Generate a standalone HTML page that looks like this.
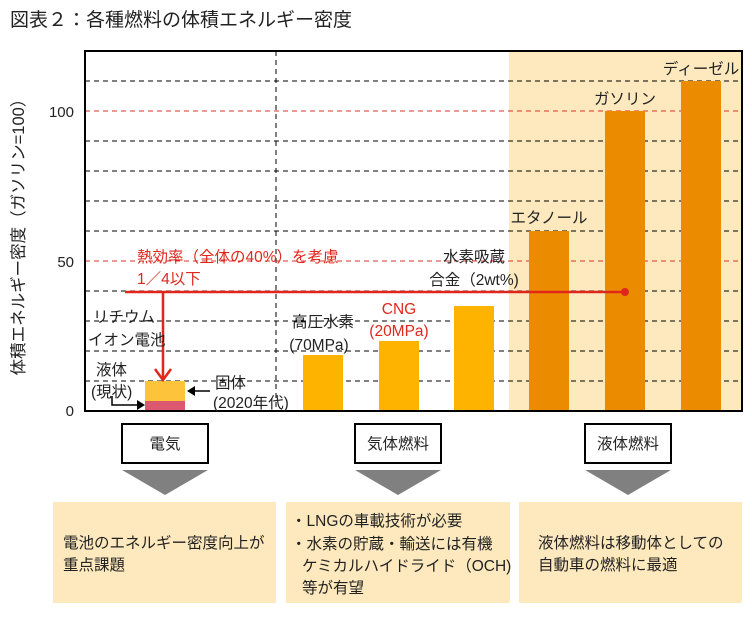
<!DOCTYPE html>
<html><head><meta charset="utf-8"><style>
body{margin:0;background:#fff;}
svg text{font-family:"Liberation Sans","Noto Sans CJK JP",sans-serif;fill:#222;}
</style></head><body>
<svg width="752" height="613" viewBox="0 0 752 613" xmlns="http://www.w3.org/2000/svg">
<text x="10" y="26" font-size="19">図表２：各種燃料の体積エネルギー密度</text>
<rect x="509" y="51" width="233" height="360" fill="#fde9bd"/>
<g stroke="#000" stroke-dasharray="5,4" stroke-width="1">
<line x1="85" y1="81" x2="742" y2="81"/>
<line x1="85" y1="141" x2="742" y2="141"/>
<line x1="85" y1="171" x2="742" y2="171"/>
<line x1="85" y1="201" x2="742" y2="201"/>
<line x1="85" y1="231" x2="742" y2="231"/>
<line x1="85" y1="291" x2="742" y2="291"/>
<line x1="85" y1="321" x2="742" y2="321"/>
<line x1="85" y1="351" x2="742" y2="351"/>
<line x1="85" y1="381" x2="742" y2="381"/>
<line x1="276" y1="51" x2="276" y2="411"/>
</g>
<g stroke="#d9322a" stroke-dasharray="5,4" stroke-width="1">
<line x1="85" y1="111" x2="742" y2="111"/>
<line x1="85" y1="261" x2="742" y2="261"/>
</g>
<rect x="145" y="381" width="40" height="20" fill="#fdc33a"/>
<rect x="145" y="401" width="40" height="10" fill="#dc5870"/>
<rect x="303" y="355" width="40" height="56" fill="#fdb300"/>
<rect x="379" y="341" width="40" height="70" fill="#fdb300"/>
<rect x="454" y="306" width="40" height="105" fill="#fdb300"/>
<rect x="529" y="231" width="40" height="180" fill="#ea8b00"/>
<rect x="605" y="111" width="40" height="300" fill="#ea8b00"/>
<rect x="681" y="81" width="40" height="330" fill="#ea8b00"/>
<rect x="85" y="51" width="657" height="360" fill="none" stroke="#000" stroke-width="2"/>
<g font-size="15" text-anchor="end">
<text x="74" y="117">100</text><text x="74" y="267">50</text><text x="74" y="416">0</text>
</g>
<text transform="translate(24,233) rotate(-90)" font-size="16.5" text-anchor="middle">体積エネルギー密度（ガソリン=100）</text>
<line x1="125" y1="292" x2="625" y2="292" stroke="#e0271c" stroke-width="2.5"/>
<circle cx="625" cy="292" r="4" fill="#e0271c"/>
<line x1="163" y1="292" x2="163" y2="378" stroke="#e0271c" stroke-width="2.5"/>
<polyline points="155,369 163,380 171,369" fill="none" stroke="#e0271c" stroke-width="2.5"/>
<g font-size="15.5">
<text x="137" y="262" style="fill:#e0271c">熱効率（全体の40%）を考慮</text>
<text x="137" y="284" style="fill:#e0271c">1／4以下</text>
<text x="399" y="314" text-anchor="middle" style="fill:#e0271c">CNG</text>
<text x="399" y="336" text-anchor="middle" style="fill:#e0271c">(20MPa)</text>
</g>
<g font-size="15.5">
<text x="93" y="322">リチウム</text>
<text x="88" y="345">イオン電池</text>
<text x="96" y="375">液体</text>
<text x="91" y="397">(現状)</text>
<text x="215" y="388">固体</text>
<text x="213" y="408">(2020年代)</text>
<text x="323" y="327" text-anchor="middle">高圧水素</text>
<text x="319" y="350" text-anchor="middle">(70MPa)</text>
<text x="474" y="262" text-anchor="middle">水素吸蔵</text>
<text x="474" y="285" text-anchor="middle">合金（2wt%)</text>
<text x="549" y="223" text-anchor="middle">エタノール</text>
<text x="625" y="104" text-anchor="middle">ガソリン</text>
<text x="701" y="74" text-anchor="middle">ディーゼル</text>
</g>
<polyline points="112,396 112,405 139,405" fill="none" stroke="#000" stroke-width="1.5"/>
<polygon points="145,405 137,400 137,410" fill="#000"/>
<line x1="192" y1="391" x2="210" y2="391" stroke="#000" stroke-width="1.5"/>
<polygon points="187,391 195,386 195,396" fill="#000"/>
<g stroke="#000" stroke-width="2" fill="#fff">
<rect x="122" y="424" width="86" height="39"/>
<rect x="355" y="424" width="86" height="39"/>
<rect x="585" y="424" width="86" height="39"/>
</g>
<g font-size="15.5" text-anchor="middle">
<text x="165" y="449">電気</text><text x="398" y="449">気体燃料</text><text x="628" y="449">液体燃料</text>
</g>
<g fill="#808080">
<polygon points="122,470 208,470 165,495"/>
<polygon points="355,470 441,470 398,495"/>
<polygon points="585,470 671,470 628,495"/>
</g>
<g fill="#fde9bd">
<rect x="53" y="502" width="223" height="101"/>
<rect x="286" y="502" width="224" height="101"/>
<rect x="519" y="502" width="223" height="101"/>
</g>
<g font-size="15.5">
<text x="63" y="548">電池のエネルギー密度向上が</text>
<text x="63" y="570">重点課題</text>
<text x="291" y="526">・LNGの車載技術が必要</text>
<text x="291" y="549">・水素の貯蔵・輸送には有機</text>
<text x="302" y="571">ケミカルハイドライド（OCH)</text>
<text x="302" y="593">等が有望</text>
<text x="538" y="548">液体燃料は移動体としての</text>
<text x="538" y="570">自動車の燃料に最適</text>
</g>
</svg>
</body></html>
